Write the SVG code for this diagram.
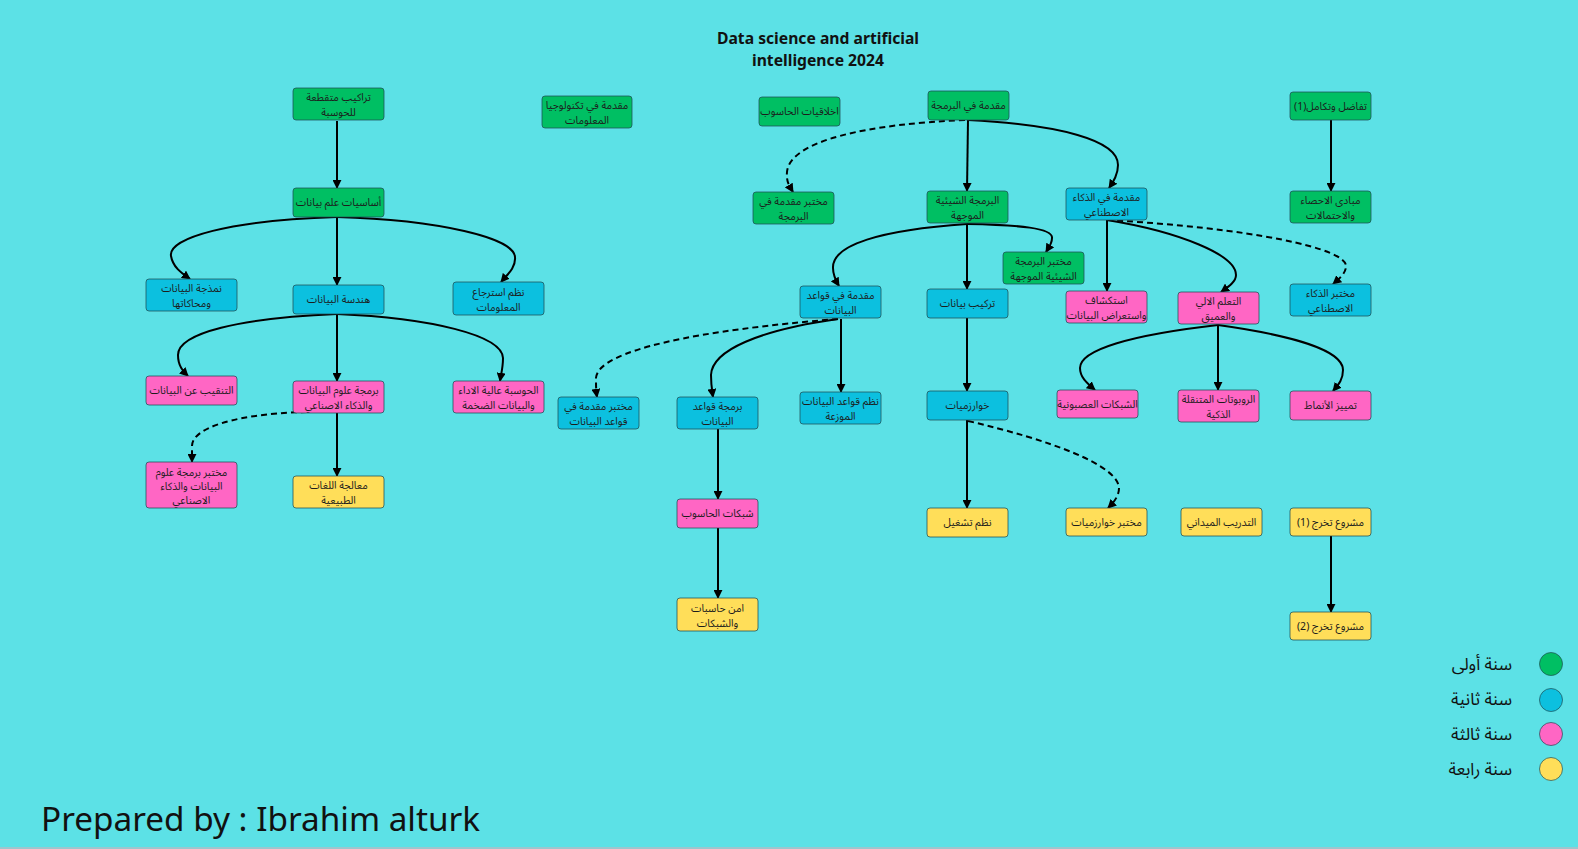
<svg xmlns="http://www.w3.org/2000/svg" width="1578" height="849" viewBox="0 0 1578 849">
<style>
.n rect{stroke:#1f4f55;stroke-opacity:.75;stroke-width:1}
.g rect{fill:#00bf63}
.b rect{fill:#0cc0df}
.p rect{fill:#ff66c4}
.y rect{fill:#ffde59}
.n text{font-family:"Noto Sans Arabic","Noto Sans","DejaVu Sans",sans-serif;font-size:10.5px;fill:#1c1c1c;text-anchor:middle}
.e path{fill:none;stroke:#000;stroke-width:2}
.e path.d{stroke-dasharray:6 4}
.leg text{font-family:"Noto Sans Arabic","Noto Sans","DejaVu Sans",sans-serif;font-size:17px;fill:#111;text-anchor:end}
.leg circle{stroke:#1f4f55;stroke-opacity:.7;stroke-width:1}
</style>
<defs>
<marker id="ah" viewBox="0 0 10 10" refX="9" refY="5" markerWidth="9" markerHeight="9" markerUnits="userSpaceOnUse" orient="auto">
<path d="M0,0 L10,5 L0,10 z" fill="#000"/>
</marker>
</defs>
<rect x="0" y="0" width="1578" height="849" fill="#5ce1e6"/>
<rect x="0" y="847" width="1578" height="2" fill="#9cc6ce"/>

<g id="title" font-family="'Noto Sans','Open Sans',sans-serif" font-weight="bold" font-size="15.7" fill="#111" text-anchor="middle">
<text x="818" y="44">Data science and artificial</text>
<text x="818" y="66">intelligence 2024</text>
</g>

<g id="connectors" class="e">
<path d="M337,121 L337,188" marker-end="url(#ah)"/>
<path d="M337,217 C230,220 168,238 171,256 C173,268 183,274 190,279" marker-end="url(#ah)"/>
<path d="M337,217 L337,285" marker-end="url(#ah)"/>
<path d="M337,217 C440,220 514,238 515,257 C516,268 507,275 501,282" marker-end="url(#ah)"/>
<path d="M337,314 C240,318 178,333 178,355 C178,366 183,371 188,376" marker-end="url(#ah)"/>
<path d="M337,314 L337,381" marker-end="url(#ah)"/>
<path d="M337,314 C430,318 502,335 503,358 C503,368 501,374 500,381" marker-end="url(#ah)"/>
<path class="d" d="M337,412 C250,410 192,425 192,446 C192,452 192,456 192,462" marker-end="url(#ah)"/>
<path d="M337,413 L337,476" marker-end="url(#ah)"/>
<path class="d" d="M965,120 C870,124 790,140 787,172 C786,182 790,187 793,192" marker-end="url(#ah)"/>
<path d="M968,120 L967,191" marker-end="url(#ah)"/>
<path d="M968,120 C1060,125 1118,140 1118,165 C1118,175 1113,182 1109,188" marker-end="url(#ah)"/>
<path d="M967,224 C880,230 832,245 833,268 C833,276 836,281 839,286" marker-end="url(#ah)"/>
<path d="M967,224 C1020,225 1053,228 1052,238 C1052,244 1049,247 1046,252" marker-end="url(#ah)"/>
<path d="M967,224 L967,289" marker-end="url(#ah)"/>
<path class="d" d="M838,319 C700,330 598,350 596,378 C596,386 596,390 597,397" marker-end="url(#ah)"/>
<path d="M838,319 C760,330 712,350 711,375 C711,385 712,390 713,397" marker-end="url(#ah)"/>
<path d="M841,319 L841,392" marker-end="url(#ah)"/>
<path d="M718,429 L718,499" marker-end="url(#ah)"/>
<path d="M718,528 L718,598" marker-end="url(#ah)"/>
<path d="M967,318 L967,391" marker-end="url(#ah)"/>
<path d="M967,420 L967,508" marker-end="url(#ah)"/>
<path class="d" d="M968,421 C1050,440 1118,465 1119,488 C1119,496 1114,502 1108,508" marker-end="url(#ah)"/>
<path d="M1107,220 L1107,291" marker-end="url(#ah)"/>
<path d="M1107,220 C1180,232 1236,255 1236,275 C1236,282 1228,287 1221,292" marker-end="url(#ah)"/>
<path class="d" d="M1107,220 C1250,228 1346,248 1346,266 C1346,273 1340,278 1333,284" marker-end="url(#ah)"/>
<path d="M1331,120 L1331,191" marker-end="url(#ah)"/>
<path d="M1218,325 C1130,335 1080,350 1080,368 C1080,378 1088,384 1095,390" marker-end="url(#ah)"/>
<path d="M1218,325 L1218,390" marker-end="url(#ah)"/>
<path d="M1218,325 C1290,335 1343,350 1343,370 C1343,380 1338,385 1333,391" marker-end="url(#ah)"/>
<path d="M1331,536 L1331,612" marker-end="url(#ah)"/>
</g>

<g id="n1" class="n g"><rect x="293" y="88" width="91" height="32" rx="3"/><text x="338.5" y="101" direction="rtl">تراكيب متقطعة</text><text x="338.5" y="116" direction="rtl">للحوسبة</text></g>
<g id="n2" class="n g"><rect x="293" y="188" width="91" height="29" rx="3"/><text x="338.5" y="206" direction="rtl">أساسيات علم بيانات</text></g>
<g id="n3" class="n b"><rect x="146" y="279" width="91" height="32" rx="3"/><text x="191.5" y="292" direction="rtl">نمذجة البيانات</text><text x="191.5" y="307" direction="rtl">ومحاكاتها</text></g>
<g id="n4" class="n b"><rect x="293" y="285" width="91" height="29" rx="3"/><text x="338.5" y="303" direction="rtl">هندسة البيانات</text></g>
<g id="n5" class="n b"><rect x="453" y="282" width="91" height="33" rx="3"/><text x="498.5" y="296" direction="rtl">نظم استرجاع</text><text x="498.5" y="311" direction="rtl">المعلومات</text></g>
<g id="n6" class="n p"><rect x="146" y="376" width="91" height="29" rx="3"/><text x="191.5" y="394" direction="rtl">التنقيب عن البيانات</text></g>
<g id="n7" class="n p"><rect x="293" y="381" width="91" height="32" rx="3"/><text x="338.5" y="394" direction="rtl">برمجة علوم البيانات</text><text x="338.5" y="409" direction="rtl">والذكاء الاصناعي</text></g>
<g id="n8" class="n p"><rect x="453" y="381" width="91" height="32" rx="3"/><text x="498.5" y="394" direction="rtl">الحوسبة عالية الاداء</text><text x="498.5" y="409" direction="rtl">والبيانات الضخمة</text></g>
<g id="n9" class="n p"><rect x="146" y="462" width="91" height="46" rx="3"/><text x="191.5" y="476" direction="rtl">مختبر برمجة علوم</text><text x="191.5" y="490" direction="rtl">البيانات والذكاء</text><text x="191.5" y="504" direction="rtl">الاصناعي</text></g>
<g id="n10" class="n y"><rect x="293" y="476" width="91" height="32" rx="3"/><text x="338.5" y="489" direction="rtl">معالجة اللغات</text><text x="338.5" y="504" direction="rtl">الطبيعية</text></g>

<g id="n11" class="n g"><rect x="542" y="96" width="90" height="32" rx="3"/><text x="587" y="109" direction="rtl">مقدمة في تكنولوجيا</text><text x="587" y="124" direction="rtl">المعلومات</text></g>
<g id="n12" class="n g"><rect x="759" y="97" width="81" height="29" rx="3"/><text x="799.5" y="115" direction="rtl">اخلاقيات الحاسوب</text></g>
<g id="n13" class="n g"><rect x="753" y="192" width="81" height="32" rx="3"/><text x="793.5" y="205" direction="rtl">مختبر مقدمة في</text><text x="793.5" y="220" direction="rtl">البرمجة</text></g>
<g id="n14" class="n b"><rect x="800" y="286" width="81" height="32" rx="3"/><text x="840.5" y="299" direction="rtl">مقدمة في قواعد</text><text x="840.5" y="314" direction="rtl">البيانات</text></g>
<g id="n15" class="n b"><rect x="558" y="397" width="81" height="32" rx="3"/><text x="598.5" y="410" direction="rtl">مختبر مقدمة في</text><text x="598.5" y="425" direction="rtl">قواعد البيانات</text></g>
<g id="n16" class="n b"><rect x="677" y="397" width="81" height="32" rx="3"/><text x="717.5" y="410" direction="rtl">برمجة قواعد</text><text x="717.5" y="425" direction="rtl">البيانات</text></g>
<g id="n17" class="n b"><rect x="800" y="392" width="81" height="32" rx="3"/><text x="840.5" y="405" direction="rtl">نظم قواعد البيانات</text><text x="840.5" y="420" direction="rtl">الموزعة</text></g>
<g id="n18" class="n p"><rect x="677" y="499" width="81" height="29" rx="3"/><text x="717.5" y="517" direction="rtl">شبكات الحاسوب</text></g>
<g id="n19" class="n y"><rect x="677" y="598" width="81" height="33" rx="3"/><text x="717.5" y="612" direction="rtl">امن حاسبات</text><text x="717.5" y="627" direction="rtl">والشبكات</text></g>

<g id="n20" class="n g"><rect x="928" y="91" width="81" height="29" rx="3"/><text x="968.5" y="109" direction="rtl">مقدمة في البرمجة</text></g>
<g id="n21" class="n g"><rect x="927" y="191" width="81" height="32" rx="3"/><text x="967.5" y="204" direction="rtl">البرمجة الشيئية</text><text x="967.5" y="219" direction="rtl">الموجهة</text></g>
<g id="n22" class="n b"><rect x="1066" y="188" width="81" height="32" rx="3"/><text x="1106.5" y="201" direction="rtl">مقدمة في الذكاء</text><text x="1106.5" y="216" direction="rtl">الاصطناعي</text></g>
<g id="n23" class="n g"><rect x="1003" y="252" width="81" height="32" rx="3"/><text x="1043.5" y="265" direction="rtl">مختبر البرمجة</text><text x="1043.5" y="280" direction="rtl">الشيئية الموجهة</text></g>
<g id="n24" class="n b"><rect x="927" y="289" width="81" height="29" rx="3"/><text x="967.5" y="307" direction="rtl">تركيب بيانات</text></g>
<g id="n25" class="n p"><rect x="1066" y="291" width="81" height="32" rx="3"/><text x="1106.5" y="304" direction="rtl">استكشاف</text><text x="1106.5" y="319" direction="rtl">واستعراض البيانات</text></g>
<g id="n26" class="n g"><rect x="1290" y="92" width="81" height="28" rx="3"/><text x="1330.5" y="110" direction="rtl">تفاضل وتكامل(1)</text></g>
<g id="n27" class="n g"><rect x="1290" y="191" width="81" height="32" rx="3"/><text x="1330.5" y="204" direction="rtl">مبادى الاحصاء</text><text x="1330.5" y="219" direction="rtl">والاحتمالات</text></g>
<g id="n28" class="n b"><rect x="1290" y="284" width="81" height="32" rx="3"/><text x="1330.5" y="297" direction="rtl">مختبر الذكاء</text><text x="1330.5" y="312" direction="rtl">الاصطناعي</text></g>
<g id="n29" class="n p"><rect x="1178" y="292" width="81" height="32" rx="3"/><text x="1218.5" y="305" direction="rtl">التعلم الالي</text><text x="1218.5" y="320" direction="rtl">والعميق</text></g>

<g id="n30" class="n b"><rect x="927" y="391" width="81" height="29" rx="3"/><text x="967.5" y="409" direction="rtl">خوارزميات</text></g>
<g id="n31" class="n p"><rect x="1057" y="390" width="81" height="28" rx="3"/><text x="1097.5" y="408" direction="rtl">الشبكات العصبونية</text></g>
<g id="n32" class="n p"><rect x="1178" y="390" width="81" height="32" rx="3"/><text x="1218.5" y="403" direction="rtl">الروبوتات المتنقلة</text><text x="1218.5" y="418" direction="rtl">الذكية</text></g>
<g id="n33" class="n p"><rect x="1290" y="391" width="81" height="29" rx="3"/><text x="1330.5" y="409" direction="rtl">تمييز الأنماط</text></g>
<g id="n34" class="n y"><rect x="927" y="508" width="81" height="29" rx="3"/><text x="967.5" y="526" direction="rtl">نظم تشغيل</text></g>
<g id="n35" class="n y"><rect x="1066" y="508" width="81" height="28" rx="3"/><text x="1106.5" y="526" direction="rtl">مختبر خوارزميات</text></g>
<g id="n36" class="n y"><rect x="1181" y="508" width="81" height="28" rx="3"/><text x="1221.5" y="526" direction="rtl">التدريب الميداني</text></g>
<g id="n37" class="n y"><rect x="1290" y="508" width="81" height="28" rx="3"/><text x="1330.5" y="526" direction="rtl">مشروع تخرج (1)</text></g>
<g id="n38" class="n y"><rect x="1290" y="612" width="81" height="28" rx="3"/><text x="1330.5" y="630" direction="rtl">مشروع تخرج (2)</text></g>

<g id="legend" class="leg">
<circle cx="1551" cy="664" r="11.5" fill="#00bf63"/>
<circle cx="1551" cy="700" r="11.5" fill="#0cc0df"/>
<circle cx="1551" cy="734" r="11.5" fill="#ff66c4"/>
<circle cx="1551" cy="769" r="11.5" fill="#ffde59"/>
<text x="1512" y="670">سنة أولى</text>
<text x="1512" y="705">سنة ثانية</text>
<text x="1512" y="740">سنة ثالثة</text>
<text x="1512" y="775">سنة رابعة</text>
</g>

<g id="footer"><text x="41" y="831" font-family="'Noto Sans','Open Sans',sans-serif" font-size="33.3" fill="#111">Prepared by : Ibrahim alturk</text></g>
</svg>
